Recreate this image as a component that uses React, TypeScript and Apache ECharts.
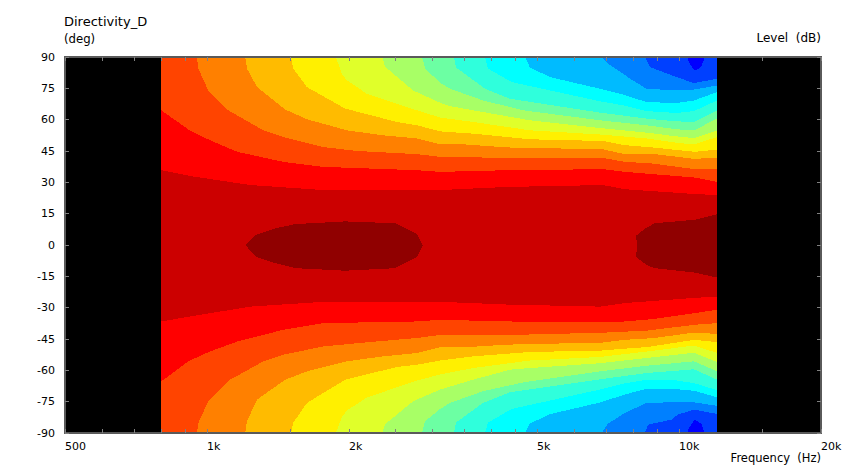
import React, { useEffect, useRef } from "react";
import * as echarts from "echarts";

type Pt = number[];

const F_START = 800;

const xLabels = [500, 1000, 2000, 5000, 10000, 20000];
const xTicks = [500, 600, 700, 800, 900, 1000, 1500, 2000, 2500, 3000, 3500, 4000, 4500, 5000, 6000, 7000, 8000, 9000, 10000, 15000, 20000];

const baseRect: Pt[] = [[800, -90], [800, 90], [12050, 90], [12050, -90]];

const blue1Top: Pt[] = [[10401, 90], [10539, 86.9], [10800, 83.4], [11157, 85.3], [11340, 90], [12050, 90]];
const blue1Bottom: Pt[] = [[10401, -90], [10539, -87], [10800, -83.6], [11157, -85.6], [11340, -90], [12050, -90]];
const blue2Top: Pt[] = [[8466, 90], [8674, 85.2], [9879, 80.4], [10762, 77.5], [12050, 79.6]];
const blue2Bottom: Pt[] = [[8466, -90], [8600, -86], [9641, -83.6], [9942, -81.2], [10762, -78.8], [12050, -80.9]];
const skyTop: Pt[] = [[6866, 90], [7068, 86.9], [7934, 79.2], [8536, 74.8], [9879, 74], [10762, 74.4], [12050, 76.4]];
const skyBottom: Pt[] = [[6866, -90], [7068, -85.6], [7679, -80.4], [8536, -75.6], [9641, -75.3], [10762, -75.3], [12050, -77]];
const cyanTop: Pt[] = [[4717, 90], [4833, 85], [5327, 80.4], [6800, 74.8], [7603, 72.1], [8536, 68.4], [9879, 68], [10762, 69.2], [12050, 73.2]];
const cyanBottom: Pt[] = [[4717, -90], [4833, -85.5], [5327, -81], [6800, -75.4], [7679, -71.6], [8536, -68.8], [9641, -68.8], [10762, -69.8], [12050, -72.9]];
const turqTop: Pt[] = [[3882, 90], [3939, 84.5], [4420, 78], [6800, 68.8], [7603, 66.9], [8536, 64.1], [9879, 63.2], [10762, 64.1], [12050, 69.2]];
const turqBottom: Pt[] = [[3882, -90], [3939, -85], [4420, -78.5], [6800, -69.2], [7603, -66.4], [8536, -64.5], [9641, -64.5], [10762, -66.1], [12050, -69.5]];
const mintTop: Pt[] = [[3337, 90], [3370, 85], [3882, 74.8], [4385, 70], [6800, 63.4], [8536, 60.5], [9879, 59.2], [10762, 58.9], [12050, 64.5]];
const mintBottom: Pt[] = [[3337, -90], [3370, -85], [3845, -75.6], [4385, -70.5], [6800, -64.3], [8536, -61.3], [10762, -59.5], [12050, -64.5]];
const greenTop: Pt[] = [[2856, 90], [2897, 84.5], [3118, 77.7], [3273, 74.8], [3845, 69.2], [4671, 64.5], [6800, 59.7], [8536, 57.3], [9879, 55.4], [10762, 54.9], [12050, 60.5]];
const greenBottom: Pt[] = [[2856, -90], [2897, -84.4], [3118, -78.5], [3273, -75.6], [3845, -70], [4671, -65.8], [6800, -60.5], [8536, -57.8], [10762, -55.7], [12050, -60.5]];
const limeTop: Pt[] = [[2350, 90], [2385, 85.3], [2733, 74], [3118, 68.1], [3273, 66.5], [3661, 64.5], [4833, 59.7], [6800, 56], [8536, 53.8], [9879, 52], [10762, 51.2], [12050, 54.9]];
const limeBottom: Pt[] = [[2350, -90], [2385, -85.8], [2733, -74.8], [3118, -69.2], [3661, -64.5], [4385, -59.7], [4833, -58.9], [6800, -56.6], [8536, -54.1], [10762, -51.6], [12050, -56]];
const yellowTop: Pt[] = [[1875, 90], [1930, 82], [1979, 78.8], [2181, 72.4], [2783, 64.5], [3118, 61], [3661, 58.9], [4833, 54.9], [6800, 52.9], [8536, 51], [9879, 49], [10762, 48.1], [12050, 51.7]];
const yellowBottom: Pt[] = [[1875, -90], [1930, -82.5], [1979, -79.2], [2181, -73], [2783, -64.9], [3118, -62], [3661, -58.9], [4833, -55.3], [6800, -53.6], [8536, -51], [9879, -49.2], [10762, -48.1], [12050, -51.7]];
const amberTop: Pt[] = [[1506, 90], [1523, 84.5], [1628, 75.6], [1962, 65.3], [2524, 58.9], [2787, 57.3], [3118, 54.4], [3661, 53.3], [4833, 50.6], [6900, 49.8], [7679, 47.8], [8801, 46.7], [10800, 44.6], [12050, 45.7]];
const amberBottom: Pt[] = [[1506, -90], [1523, -85.1], [1628, -75.6], [1962, -64.5], [2524, -58.4], [2787, -57.3], [3118, -55.3], [3661, -53.3], [4833, -51.2], [6800, -50.6], [7603, -49.7], [8536, -48.9], [10762, -45.4], [12050, -46.5]];
const orangeTop: Pt[] = [[1205, 90], [1215, 84.5], [1276, 75.6], [1465, 64.8], [1628, 60.2], [1979, 54.9], [2361, 52.5], [2787, 51], [3118, 48.2], [3486, 48.2], [4321, 46.7], [6900, 45.8], [7679, 43.5], [8674, 43.8], [10800, 41.2], [12050, 41.9]];
const orangeBottom: Pt[] = [[1205, -90], [1215, -84.4], [1276, -74], [1465, -64.5], [1628, -60.5], [1979, -55.7], [2361, -53.3], [2787, -51.7], [3118, -49], [3486, -49], [4321, -47.7], [6900, -46.7], [7679, -45.4], [8801, -44.6], [10800, -41.9], [12050, -42.6]];
const flameTop: Pt[] = [[952, 90], [958, 84.5], [1006, 74], [1109, 64.5], [1316, 54.9], [1450, 51.7], [1762, 46.9], [2080, 45], [2787, 43.5], [3118, 42.2], [4321, 41.7], [6900, 41.7], [7679, 39.8], [8801, 39], [10800, 36.3], [12050, 36.3]];
const flameBottom: Pt[] = [[952, -90], [958, -85.3], [1006, -74.8], [1119, -64.5], [1316, -55.7], [1450, -52.5], [1762, -48.6], [2080, -47], [2787, -44.5], [3150, -42.9], [4321, -43.1], [6900, -42], [8536, -41], [10800, -38.2], [12050, -37.4]];
const redTop: Pt[] = [[800, 64.5], [922, 54.6], [1016, 50.1], [1159, 44.6], [1450, 39.8], [1762, 37.4], [2787, 35.8], [3118, 35], [4321, 35.8], [6900, 36.3], [7679, 35], [10800, 32.3], [12050, 30.2]];
const redBottom: Pt[] = [[800, -65.3], [912, -55.7], [1016, -50.9], [1159, -46.2], [1450, -40.6], [1762, -37.4], [2787, -36.6], [3118, -35.8], [4321, -36.6], [6900, -37.1], [7679, -36.6], [8801, -35.5], [10800, -32.6], [12050, -31]];
const crimsonTop: Pt[] = [[800, 35.8], [922, 33], [1235, 28.7], [1762, 26.3], [3118, 26.3], [4321, 27.8], [6900, 28.7], [7679, 26.7], [10800, 24.4], [12050, 23.9]];
const crimsonBottom: Pt[] = [[800, -36.6], [922, -34.2], [1235, -29.5], [1762, -27.2], [3118, -27.2], [4321, -28.5], [6800, -29.5], [7679, -27.8], [10800, -25.3], [12050, -24.7]];
const peakCentre: Pt[] = [[1205, 0], [1270, 4.8], [1395, 8], [1538, 10], [1962, 11.3], [2503, 10.4], [2783, 5.3], [2865, 0], [2783, -5.9], [2503, -11.1], [1962, -12.3], [1538, -11.1], [1395, -8.7], [1270, -5.6]];
const peakRight: Pt[] = [[8102, 4.4], [8536, 8.3], [8888, 10.4], [10800, 12.1], [12050, 14.7], [12050, -15.6], [10800, -13.2], [8888, -11.1], [8536, -9.6], [8102, -5.6], [8170, 0]];

const bands: [string, Pt[], Pt[]][] = [
  ["#0040ff", blue1Top, blue1Bottom],
  ["#0080ff", blue2Top, blue2Bottom],
  ["#00bbff", skyTop, skyBottom],
  ["#00ffff", cyanTop, cyanBottom],
  ["#2fffdc", turqTop, turqBottom],
  ["#6cffa3", mintTop, mintBottom],
  ["#a8ff66", greenTop, greenBottom],
  ["#e0ff2a", limeTop, limeBottom],
  ["#fff000", yellowTop, yellowBottom],
  ["#ffbb00", amberTop, amberBottom],
  ["#ff8000", orangeTop, orangeBottom],
  ["#ff4400", flameTop, flameBottom],
  ["#ff0000", redTop, redBottom],
  ["#cc0000", crimsonTop, crimsonBottom],
];

function outline(top: Pt[], bottom: Pt[]): Pt[] {
  const pts: Pt[] = [];
  if (top[0][0] > F_START) pts.push([F_START, 90]);
  pts.push(...top);
  pts.push(...[...bottom].reverse());
  if (bottom[0][0] > F_START) pts.push([F_START, -90]);
  return pts;
}

function polygonSeries(color: string, data: Pt[]) {
  return {
    type: "custom",
    coordinateSystem: "cartesian2d",
    xAxisIndex: 0,
    yAxisIndex: 0,
    silent: true,
    clip: true,
    encode: { x: 0, y: 1 },
    data,
    renderItem: (params: any, api: any) => {
      if (params.dataIndex !== 0) return null;
      return {
        type: "polygon",
        shape: { points: data.map((p) => api.coord(p)) },
        style: { fill: color },
      };
    },
  };
}

const FONT = "'DejaVu Sans'";
const GRAY = "#5a5a5a";

function xAxisOpt(position: string, showLabels: boolean, extra: any = {}) {
  return {
    type: "log",
    logBase: 10,
    min: 500,
    max: 20000,
    position,
    z: 10,
    splitLine: { show: false },
    minorTick: { show: false },
    minorSplitLine: { show: false },
    axisLine: { show: true, onZero: false, lineStyle: { color: GRAY, width: 2 } },
    axisTick: { show: true, inside: true, length: 4, customValues: xTicks, lineStyle: { color: "#808080", width: 1 } },
    axisLabel: {
      show: showLabels,
      customValues: xLabels,
      align: "left",
      margin: 8,
      color: "#000",
      fontFamily: FONT,
      fontSize: 11,
      hideOverlap: false,
      showMinLabel: true,
      showMaxLabel: true,
      formatter: (v: number) => (v >= 1000 ? `${Math.round(v / 1000)}k` : `${Math.round(v)}`),
    },
    ...extra,
  };
}

function yAxisOpt(position: string, showLabels: boolean, extra: any = {}) {
  return {
    type: "value",
    min: -90,
    max: 90,
    interval: 15,
    position,
    z: 10,
    splitLine: { show: false },
    axisLine: { show: true, onZero: false, lineStyle: { color: GRAY, width: 2 } },
    axisTick: { show: true, inside: true, length: 4, lineStyle: { color: "#808080", width: 1 } },
    axisLabel: { show: showLabels, margin: 10, color: "#000", fontFamily: FONT, fontSize: 11 },
    ...extra,
  };
}

export default function App() {
  const ref = useRef<HTMLDivElement>(null);
  useEffect(() => {
    const chart = echarts.init(ref.current!, undefined, { renderer: "svg" });
    chart.setOption({
      animation: false,
      backgroundColor: "#fff",
      title: {
        text: "Directivity_D",
        left: 64,
        top: 15,
        padding: 0,
        textStyle: { fontFamily: FONT, fontSize: 13, fontWeight: "normal", color: "#000" },
      },
      grid: { left: 65, right: 27, top: 57, bottom: 36, show: true, backgroundColor: "#000", borderWidth: 0, outerBoundsMode: "none", containLabel: false },
      xAxis: [
        xAxisOpt("bottom", true, {
          name: "Frequency  (Hz)",
          nameLocation: "end",
          nameGap: 0,
          nameTextStyle: { fontFamily: FONT, fontSize: 11.5, color: "#000", align: "right", verticalAlign: "top", padding: [19, 0, 0, 0] },
        }),
        xAxisOpt("top", false),
      ],
      yAxis: [
        yAxisOpt("left", true, {
          name: "(deg)",
          nameLocation: "end",
          nameGap: 12,
          nameTextStyle: { fontFamily: FONT, fontSize: 11.7, color: "#000", align: "left", padding: [0, 0, 0, -1] },
        }),
        yAxisOpt("right", false, {
          name: "Level  (dB)",
          nameLocation: "end",
          nameGap: 13,
          nameTextStyle: { fontFamily: FONT, fontSize: 12, color: "#000", align: "right" },
        }),
      ],
      series: [
        polygonSeries("#0000ff", baseRect),
        ...bands.map(([color, top, bottom]) => polygonSeries(color, outline(top, bottom))),
        polygonSeries("#900000", peakCentre),
        polygonSeries("#900000", peakRight),
      ],
    });
    return () => chart.dispose();
  }, []);
  return (
    <>
      <style>{"svg path { shape-rendering: crispEdges; }"}</style>
      <div ref={ref} style={{ position: "absolute", left: 0, top: 0, width: 848, height: 469 }} />
    </>
  );
}
